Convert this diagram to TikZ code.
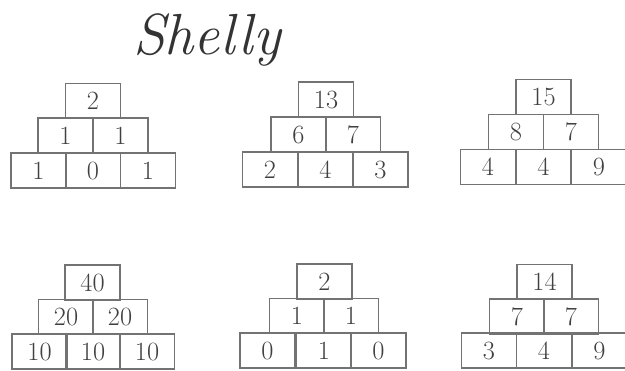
\documentclass[tikz,border=0pt]{standalone}
\usepackage{tikz}
\usetikzlibrary{positioning}

\begin{document}
\begin{tikzpicture}[
  x=0.02cm, y=0.02cm,
  every node/.style={align=center},
  cell/.style={draw=black!55, line width=0.9pt, minimum width=1.1cm, minimum height=0.7cm,
               inner sep=0pt, font=\fontsize{15}{15}\selectfont, text=black!75},
  signature/.style={font=\fontsize{33}{33}\selectfont\itshape, text=black!80}
]
\useasboundingbox (0,0) rectangle (625,370);

% --- Name ---
\node[signature] (title) at (207, 330) {Shelly};

% --- Pyramid 1 (top left) ---
\node[cell] (p1-t)  at ( 93.0, 269.0) {2};
\node[cell] (p1-m1) at ( 65.5, 234.5) {1};
\node[cell] (p1-m2) at (120.5, 234.5) {1};
\node[cell] (p1-b1) at ( 38.5, 199.5) {1};
\node[cell] (p1-b2) at ( 93.0, 199.5) {0};
\node[cell] (p1-b3) at (148.0, 199.5) {1};

% --- Pyramid 2 (top middle) ---
\node[cell] (p2-t)  at (326.0, 270.5) {13};
\node[cell] (p2-m1) at (298.5, 235.5) {6};
\node[cell] (p2-m2) at (353.0, 235.5) {7};
\node[cell] (p2-b1) at (270.0, 200.5) {2};
\node[cell] (p2-b2) at (325.5, 200.5) {4};
\node[cell] (p2-b3) at (380.5, 200.5) {3};

% --- Pyramid 3 (top right) ---
\node[cell] (p3-t)  at (543.5, 273.0) {15};
\node[cell] (p3-m1) at (516.0, 238.0) {8};
\node[cell] (p3-m2) at (571.0, 238.0) {7};
\node[cell] (p3-b1) at (488.0, 203.0) {4};
\node[cell] (p3-b2) at (543.5, 203.0) {4};
\node[cell] (p3-b3) at (599.0, 203.0) {9};

% --- Pyramid 4 (bottom left) ---
\node[cell] (p4-t)  at ( 92.5, 87.5) {40};
\node[cell] (p4-m1) at ( 66.0, 53.0) {20};
\node[cell] (p4-m2) at (120.0, 53.0) {20};
\node[cell] (p4-b1) at ( 39.5, 18.5) {10};
\node[cell] (p4-b2) at ( 93.0, 18.5) {10};
\node[cell] (p4-b3) at (147.0, 18.5) {10};

% --- Pyramid 5 (bottom middle) ---
\node[cell] (p5-t)  at (324.5, 88.5) {2};
\node[cell] (p5-m1) at (297.0, 54.0) {1};
\node[cell] (p5-m2) at (351.0, 54.0) {1};
\node[cell] (p5-b1) at (267.5, 19.5) {0};
\node[cell] (p5-b2) at (324.0, 19.5) {1};
\node[cell] (p5-b3) at (378.5, 19.5) {0};

% --- Pyramid 6 (bottom right) ---
\node[cell] (p6-t)  at (544.5, 88.0) {14};
\node[cell] (p6-m1) at (517.0, 53.5) {7};
\node[cell] (p6-m2) at (571.0, 53.5) {7};
\node[cell] (p6-b1) at (489.0, 19.5) {3};
\node[cell] (p6-b2) at (544.0, 19.5) {4};
\node[cell] (p6-b3) at (599.5, 19.5) {9};

\end{tikzpicture}
\end{document}
